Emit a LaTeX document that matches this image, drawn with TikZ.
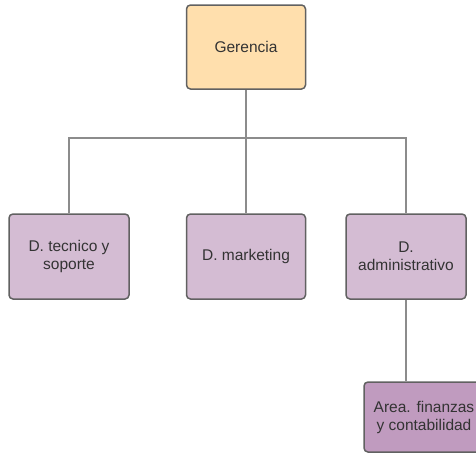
\documentclass[tikz,border=0pt]{standalone}
\usepackage{fontspec}
\setmainfont{Liberation Sans}
\definecolor{orgfill}{HTML}{FFDFAD}
\definecolor{pfill}{HTML}{D4BCD3}
\definecolor{dfill}{HTML}{C09BBF}
\definecolor{bord}{HTML}{616161}
\definecolor{conn}{HTML}{8C8C8C}
\definecolor{txt}{HTML}{333333}
\tikzset{
  box/.style={draw=bord, line width=1.5pt, rounded corners=4pt, text=txt, align=center,
    font=\fontsize{15.5}{18}\selectfont, inner sep=0pt},
  link/.style={draw=conn, line width=1.5pt}
}
\begin{document}
\begin{tikzpicture}[x=1pt,y=-1pt]
\useasboundingbox (0,0) rectangle (476,453);
\clip (0,0) rectangle (476,453);
\node[box, fill=orgfill, minimum width=119pt, minimum height=84pt] (G) at (246,47) {Gerencia};
\node[box, fill=pfill, minimum width=120pt, minimum height=85pt] (B1) at (69,256.5) {D. tecnico y\\soporte};
\node[box, fill=pfill, minimum width=119pt, minimum height=85pt] (B2) at (246,256.5) {D. marketing};
\node[box, fill=pfill, minimum width=120pt, minimum height=85pt] (B3) at (406,256.5) {D.\\administrativo};
\node[box, fill=dfill, minimum width=120pt, minimum height=70pt] (B4) at (424,417) {Area. finanzas\\y contabilidad};
\coordinate (bus) at (246,138);
\draw[link] (G.south) -- (B2.north);
\draw[link] (B1.north) |- (bus) -| (B3.north);
\draw[link] (B3.south) -- (B3.south |- B4.north);
\end{tikzpicture}
\end{document}
